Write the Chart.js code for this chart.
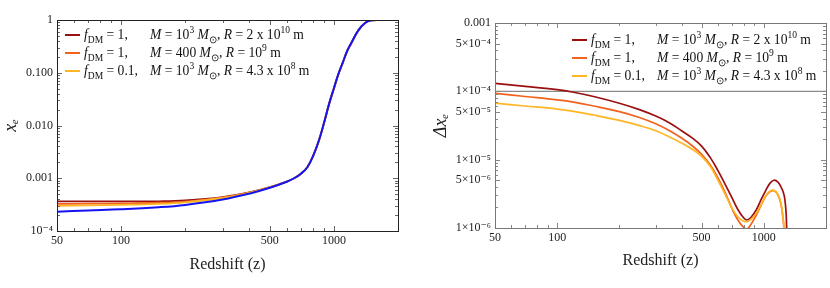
<!DOCTYPE html>
<html>
<head>
<meta charset="utf-8">
<script src="https://cdn.jsdelivr.net/npm/chart.js@4.4.1/dist/chart.umd.min.js"></script>
<style>
  body { margin: 0; background: #fff; width: 830px; height: 288px; position: relative; overflow: hidden; }
  .panel { position: absolute; top: 0; width: 415px; height: 288px; }
  .legend { position: absolute; font-family: "Liberation Serif", serif; font-size: 13.6px; color: #111; line-height: 18px; }
  .legend .row { white-space: nowrap; height: 18px; }
  .legend .sw { display: inline-block; width: 15px; height: 2px; vertical-align: middle; margin-right: 4px; position: relative; top: -1px; }
  .legend .f { display: inline-block; width: 66px; }
  .legend sub, .legend sup { font-size: 70%; line-height: 0; }
</style>
</head>
<body>
<div class="panel" style="left:0"><canvas id="chartXe" width="415" height="288"></canvas></div>
<div class="panel" style="left:415px"><canvas id="chartDelta" width="415" height="288"></canvas></div>
<div class="legend" id="legendXe" style="left:65px; top:26px"></div>
<div class="legend" id="legendDelta" style="left:572px; top:31px"></div>
<script>
// redshift grid and ionization fraction (left panel)
const zLeft = [50, 70, 100, 150, 200, 300, 400, 500, 600, 650, 700, 750, 800, 850, 900, 950, 1000, 1050, 1100, 1150, 1200, 1300, 1400, 1500, 1600, 2000];
const xeStandard = [2.32e-4, 2.45e-4, 2.58e-4, 2.82e-4, 3.12e-4, 3.95e-4, 5.1e-4, 6.6e-4, 8.6e-4, 1.0e-3, 1.22e-3, 1.62e-3, 2.7e-3, 5.2e-3, 1.15e-2, 2.6e-2, 5.1e-2, 9.5e-2, 0.155, 0.25, 0.35, 0.63, 0.88, 0.99, 1.0, 1.0];
const xeCaseA = [3.63e-4, 3.63e-4, 3.64e-4, 3.66e-4, 3.79e-4, 4.39e-4, 5.37e-4, 6.76e-4, 8.66e-4, 1.0e-3, 1.22e-3, 1.62e-3, 2.7e-3, 5.2e-3, 1.15e-2, 2.6e-2, 5.1e-2, 9.5e-2, 0.155, 0.25, 0.35, 0.63, 0.88, 0.99, 1.0, 1.0];
const xeCaseB = [3.26e-4, 3.29e-4, 3.33e-4, 3.43e-4, 3.62e-4, 4.29e-4, 5.31e-4, 6.72e-4, 8.65e-4, 1.0e-3, 1.22e-3, 1.62e-3, 2.7e-3, 5.2e-3, 1.15e-2, 2.6e-2, 5.1e-2, 9.5e-2, 0.155, 0.25, 0.35, 0.63, 0.88, 0.99, 1.0, 1.0];
const xeCaseC = [2.99e-4, 3.06e-4, 3.13e-4, 3.27e-4, 3.50e-4, 4.22e-4, 5.28e-4, 6.71e-4, 8.65e-4, 1.0e-3, 1.22e-3, 1.62e-3, 2.7e-3, 5.2e-3, 1.15e-2, 2.6e-2, 5.1e-2, 9.5e-2, 0.155, 0.25, 0.35, 0.63, 0.88, 0.99, 1.0, 1.0];

// difference to the standard history (right panel)
const zRight = [50, 70, 100, 120, 150, 200, 250, 300, 350, 400, 450, 500, 550, 600, 650, 700, 750, 800, 830, 870, 920, 970, 1020, 1070, 1120, 1170, 1210, 1240, 1260, 1280, 1290, 1310];
const deltaA = [1.31e-4, 1.18e-4, 1.06e-4, 9.7e-5, 8.4e-5, 6.7e-5, 5.4e-5, 4.35e-5, 3.45e-5, 2.65e-5, 2.08e-5, 1.58e-5, 1.08e-5, 6.9e-6, 4.35e-6, 2.8e-6, 1.85e-6, 1.4e-6, 1.31e-6, 1.45e-6, 1.85e-6, 2.6e-6, 3.5e-6, 4.5e-6, 5.0e-6, 4.7e-6, 4.0e-6, 3.4e-6, 2.8e-6, 1.8e-6, 1.0e-6, 2e-7];
const deltaB = [9.35e-5, 8.4e-5, 7.5e-5, 6.95e-5, 6.1e-5, 5.05e-5, 4.15e-5, 3.35e-5, 2.65e-5, 2.07e-5, 1.6e-5, 1.2e-5, 8.4e-6, 5.4e-6, 3.3e-6, 1.95e-6, 1.3e-6, 1.02e-6, 0.97e-6, 1.15e-6, 1.55e-6, 2.15e-6, 2.9e-6, 3.4e-6, 3.5e-6, 3.05e-6, 2.25e-6, 1.35e-6, 7.5e-7, 2.5e-7, 1.5e-7, 1e-7];
const deltaC = [6.7e-5, 6.1e-5, 5.5e-5, 5.1e-5, 4.5e-5, 3.75e-5, 3.15e-5, 2.65e-5, 2.15e-5, 1.75e-5, 1.42e-5, 1.12e-5, 8.0e-6, 5.0e-6, 3.1e-6, 1.98e-6, 1.45e-6, 1.26e-6, 1.24e-6, 1.35e-6, 1.65e-6, 2.2e-6, 2.95e-6, 3.45e-6, 3.55e-6, 3.1e-6, 2.3e-6, 1.4e-6, 8e-7, 3e-7, 2e-7, 1e-7];
const refZ = [50, 2000];
const refDelta = [1e-4, 1e-4];

// ticks
const zTicks = [50, 100, 500, 1000];
const xeTicks = [1e-4, 1e-3, 1e-2, 0.1, 1];
const xeTickLabels = ['10⁻⁴', '0.001', '0.010', '0.100', '1'];
const deltaTicks = [1e-6, 5e-6, 1e-5, 5e-5, 1e-4, 5e-4, 1e-3];
const deltaTickLabels = ['1×10⁻⁶', '5×10⁻⁶', '1×10⁻⁵', '5×10⁻⁵', '1×10⁻⁴', '5×10⁻⁴', '0.001'];

// legend text
const legendF = ['1,', '1,', '0.1,'];
const legendM = ['10<sup>3</sup>', '400', '10<sup>3</sup>'];
const legendR = ['2 x 10<sup>10</sup>', '10<sup>9</sup>', '4.3 x 10<sup>8</sup>'];

const colorA = '#9a1010';
const colorB = '#f2621c';
const colorC = '#ffb624';
const colorStd = '#1414f0';

const serif = '"Liberation Serif", "DejaVu Serif", serif';

function pts(xs, ys) {
  return xs.map((x, i) => ({ x: x, y: ys[i] }));
}

function logMinor(min, max) {
  const out = [];
  for (let e = Math.floor(Math.log10(min)); e <= Math.ceil(Math.log10(max)); e++) {
    for (let m = 1; m < 10; m++) {
      const v = m * Math.pow(10, e);
      if (v >= min * 0.999 && v <= max * 1.001) out.push(v);
    }
  }
  return out;
}

// frame with inward ticks on all four sides
const framePlugin = {
  id: 'frame',
  afterDatasetsDraw(chart, args, opts) {
    const { ctx, chartArea: a, scales } = chart;
    const xs = scales.x, ys = scales.y;
    ctx.save();
    ctx.strokeStyle = opts.tickColor;
    ctx.lineWidth = 1;
    const drawX = (v, len) => {
      const p = Math.round(xs.getPixelForValue(v)) + 0.5;
      ctx.beginPath();
      ctx.moveTo(p, a.bottom); ctx.lineTo(p, a.bottom - len);
      ctx.moveTo(p, a.top); ctx.lineTo(p, a.top + len);
      ctx.stroke();
    };
    const drawY = (v, len) => {
      const p = Math.round(ys.getPixelForValue(v)) + 0.5;
      ctx.beginPath();
      ctx.moveTo(a.left, p); ctx.lineTo(a.left + len, p);
      ctx.moveTo(a.right, p); ctx.lineTo(a.right - len, p);
      ctx.stroke();
    };
    logMinor(xs.min, xs.max).forEach(v => drawX(v, 3));
    opts.xMajor.forEach(v => drawX(v, 5));
    logMinor(ys.min, ys.max).forEach(v => drawY(v, 3));
    opts.yMajor.forEach(v => drawY(v, 5));
    ctx.strokeStyle = opts.frameColor;
    ctx.strokeRect(a.left + 0.5, a.top + 0.5, a.right - a.left, a.bottom - a.top);
    ctx.restore();
  }
};

function lineSet(data, color, width) {
  return {
    data: data,
    borderColor: color,
    backgroundColor: color,
    borderWidth: width,
    pointRadius: 0,
    fill: false,
    tension: 0.4
  };
}

function xAxis(height) {
  return {
    type: 'logarithmic',
    min: 50,
    max: 2000,
    afterBuildTicks: s => { s.ticks = zTicks.map(v => ({ value: v })); },
    afterFit: s => { s.height = height; },
    ticks: {
      autoSkip: false, maxRotation: 0, padding: 3,
      color: '#222', font: { family: serif, size: 12 },
      callback: v => String(v)
    },
    grid: { display: false, drawTicks: false },
    border: { display: false },
    title: {
      display: true, text: 'Redshift (z)', color: '#222',
      font: { family: serif, size: 16 }, padding: { top: 4, bottom: 0 }
    }
  };
}

function yAxis(min, max, ticks, labels, width, title) {
  return {
    type: 'logarithmic',
    min: min,
    max: max,
    afterBuildTicks: s => { s.ticks = ticks.map(v => ({ value: v })); },
    afterFit: s => { s.width = width; },
    ticks: {
      autoSkip: false, padding: 4,
      color: '#222', font: { family: serif, size: 12 },
      callback: (v) => {
        const i = ticks.findIndex(t => Math.abs(t - v) / t < 1e-6);
        return i >= 0 ? labels[i] : '';
      }
    },
    grid: { display: false, drawTicks: false },
    border: { display: false },
    title: {
      display: true, text: title, color: '#222',
      font: { family: serif, size: 18, style: 'italic' }, padding: { top: 0, bottom: 4 }
    }
  };
}

new Chart(document.getElementById('chartXe'), {
  type: 'line',
  data: {
    datasets: [
      lineSet(pts(zLeft, xeStandard), colorStd, 2),
      lineSet(pts(zLeft, xeCaseC), colorC, 1.8),
      lineSet(pts(zLeft, xeCaseB), colorB, 1.8),
      lineSet(pts(zLeft, xeCaseA), colorA, 1.8)
    ]
  },
  options: {
    responsive: false,
    animation: false,
    parsing: false,
    layout: { padding: { left: 0, right: 17, top: 20, bottom: 14 } },
    plugins: {
      legend: { display: false },
      tooltip: { enabled: false },
      frame: { xMajor: zTicks, yMajor: xeTicks, tickColor: '#666', frameColor: '#222' }
    },
    scales: {
      x: xAxis(43),
      y: yAxis(1e-4, 1, xeTicks, xeTickLabels, 57, 'xₑ')
    }
  },
  plugins: [framePlugin]
});

new Chart(document.getElementById('chartDelta'), {
  type: 'line',
  data: {
    datasets: [
      lineSet(pts(zRight, deltaC), colorC, 1.7),
      lineSet(pts(zRight, deltaB), colorB, 1.7),
      lineSet(pts(zRight, deltaA), colorA, 1.7),
      Object.assign(lineSet(pts(refZ, refDelta), '#8a8a8a', 1.2), { tension: 0 })
    ]
  },
  options: {
    responsive: false,
    animation: false,
    parsing: false,
    layout: { padding: { left: 15, right: 4, top: 23, bottom: 18 } },
    plugins: {
      legend: { display: false },
      tooltip: { enabled: false },
      frame: { xMajor: zTicks, yMajor: deltaTicks, tickColor: '#888', frameColor: '#777' }
    },
    scales: {
      x: xAxis(42),
      y: yAxis(1e-6, 1e-3, deltaTicks, deltaTickLabels, 65, 'Δxₑ')
    }
  },
  plugins: [framePlugin]
});

// legends as html, same entries on both panels
function fillLegend(id) {
  const colors = [colorA, colorB, colorC];
  document.getElementById(id).innerHTML = colors.map((c, i) =>
    '<div class="row"><span class="sw" style="background:' + c + '"></span>' +
    '<span class="f"><i>f</i><sub>DM</sub> = ' + legendF[i] + '</span>' +
    '<i>M</i> = ' + legendM[i] + ' <i>M</i><sub>⊙</sub>, <i>R</i> = ' + legendR[i] + ' m</div>'
  ).join('');
}
fillLegend('legendXe');
fillLegend('legendDelta');
</script>
</body>
</html>
